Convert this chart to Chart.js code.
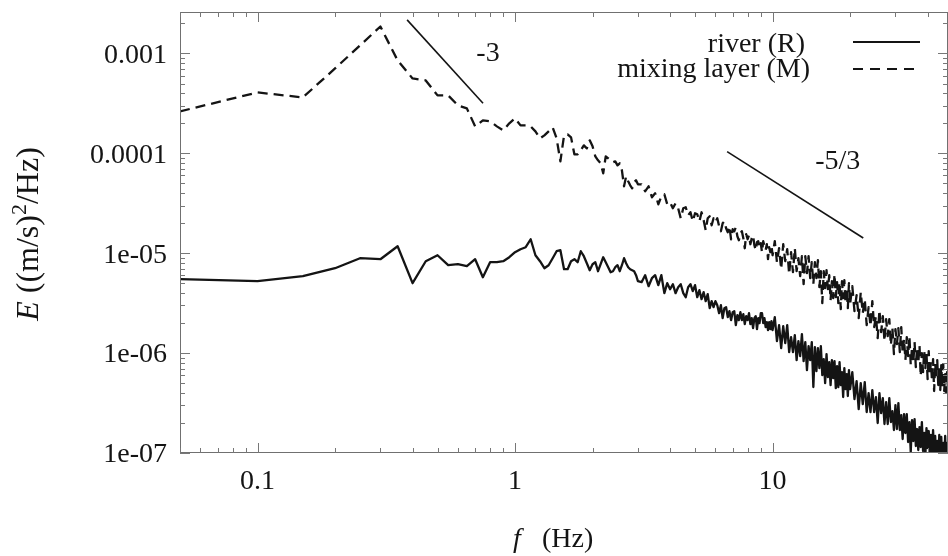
<!DOCTYPE html>
<html><head><meta charset="utf-8">
<script src="https://cdn.jsdelivr.net/npm/chart.js@4.4.1/dist/chart.umd.min.js"></script>
<style>html,body{margin:0;padding:0;background:#fff}canvas{display:block}</style>
</head><body>
<canvas id="c" width="948" height="556"></canvas>
<script>
// ---- frequencies (Hz) ----
const freqLow = [0.05,0.1,0.15,0.2,0.25,0.3,0.35,0.4,0.45,0.5,0.55,0.6,0.65,0.7,0.75,0.8,0.85,0.9,0.95,1,1.05,1.1,1.15,1.2,1.25,1.3,1.35,1.4,1.45,1.5,1.55,1.6,1.65,1.7,1.75,1.8,1.85,1.9,1.95,2,2.05,2.1,2.15,2.2,2.25,2.3,2.35,2.4,2.45,2.5,2.55,2.6,2.65,2.7,2.75,2.8,2.85,2.9,2.95,3];
const freqMid = [3.1,3.2,3.3,3.4,3.5,3.6,3.7,3.8,3.9,4,4.1,4.2,4.3,4.4,4.5,4.6,4.7,4.8,4.9,5,5.1,5.2,5.3,5.4,5.5,5.6,5.7,5.8,5.9,6,6.1,6.2,6.3,6.4,6.5,6.6,6.7,6.8,6.9,7,7.1,7.2,7.3,7.4,7.5,7.6,7.7,7.8,7.9,8,8.1,8.2,8.3,8.4,8.5,8.6,8.7,8.8,8.9,9,9.1,9.2,9.3,9.4,9.5,9.6,9.7,9.8,9.9,10];
const freqHigh1 = [10.2,10.4,10.6,10.8,11,11.2,11.4,11.6,11.8,12,12.2,12.4,12.6,12.8,13,13.2,13.4,13.6,13.8,14,14.2,14.4,14.6,14.8,15,15.2,15.4,15.6,15.8,16,16.2,16.4,16.6,16.8,17,17.2,17.4,17.6,17.8,18,18.2,18.4,18.6,18.8,19,19.2,19.4,19.6,19.8,20];
const freqHigh2 = [20.4,20.8,21.2,21.6,22,22.4,22.8,23.2,23.6,24,24.4,24.8,25.2,25.6,26,26.4,26.8,27.2,27.6,28,28.4,28.8,29.2,29.6,30,30.4,30.8,31.2,31.6,32,32.4,32.8,33.2,33.6,34,34.4,34.8,35.2,35.6,36,36.4,36.8,37.2,37.6,38,38.4,38.8,39.2,39.6,40,40.4,40.8,41.2,41.6,42,42.4,42.8,43.2,43.6,44,44.4,44.8,45.2,45.6,46,46.4,46.8,47.2,47.6,48];

// ---- river (R): log10 E ----
const riverLow = [-5.26,-5.28,-5.23,-5.15,-5.05,-5.06,-4.93,-5.30,-5.08,-5.02,
-5.12,-5.11,-5.13,-5.06,-5.24,-5.09,-5.09,-5.08,-5.04,-4.99,
-4.96,-4.94,-4.86,-5.02,-5.08,-5.15,-5.12,-5.05,-4.98,-4.97,
-5.16,-5.16,-5.08,-5.06,-5.09,-4.98,-5.03,-5.10,-5.17,-5.11,
-5.09,-5.18,-5.11,-5.04,-5.09,-5.14,-5.19,-5.18,-5.14,-5.12,
-5.18,-5.12,-5.05,-5.10,-5.14,-5.16,-5.17,-5.18,-5.22,-5.28];
const riverMid = [-5.29,-5.22,-5.33,-5.25,-5.22,-5.32,-5.22,-5.40,-5.30,-5.36,
-5.31,-5.40,-5.34,-5.31,-5.40,-5.44,-5.34,-5.31,-5.38,-5.32,
-5.44,-5.37,-5.46,-5.39,-5.48,-5.41,-5.55,-5.48,-5.54,-5.48,
-5.52,-5.60,-5.52,-5.65,-5.55,-5.54,-5.64,-5.58,-5.67,-5.59,
-5.58,-5.72,-5.62,-5.67,-5.59,-5.67,-5.61,-5.71,-5.63,-5.67,
-5.60,-5.71,-5.65,-5.75,-5.65,-5.63,-5.76,-5.65,-5.70,-5.60,
-5.60,-5.70,-5.65,-5.74,-5.69,-5.77,-5.69,-5.76,-5.68,-5.77];
const riverHigh1 = [-5.64,-5.88,-5.72,-5.95,-5.73,-5.90,-5.72,-5.99,-5.84,-5.99,
-5.82,-6.07,-5.88,-6.03,-5.81,-6.08,-5.89,-6.17,-5.93,-6.07,
-5.89,-6.34,-5.94,-6.18,-5.95,-6.15,-5.93,-6.22,-6.06,-6.30,
-6.01,-6.24,-6.09,-6.32,-6.07,-6.25,-6.08,-6.35,-6.13,-6.34,
-6.09,-6.32,-6.19,-6.44,-6.15,-6.36,-6.21,-6.43,-6.17,-6.36];
const riverHigh2 = [-6.19,-6.46,-6.28,-6.56,-6.30,-6.51,-6.29,-6.59,-6.40,-6.59,
-6.37,-6.59,-6.44,-6.70,-6.40,-6.60,-6.45,-6.71,-6.49,-6.71,
-6.45,-6.69,-6.58,-6.77,-6.52,-6.76,-6.50,-6.77,-6.62,-6.86,
-6.61,-6.80,-6.61,-6.89,-6.69,-6.99,-6.67,-6.88,-6.66,-6.93,
-6.76,-6.97,-6.74,-6.94,-6.69,-6.98,-6.80,-7.03,-6.75,-6.95,
-6.78,-7.01,-6.82,-7.08,-6.77,-7.00,-6.83,-7.08,-6.88,-7.07,
-6.82,-7.05,-6.84,-7.12,-6.90,-7.09,-6.83,-7.13,-6.90,-7.08];

// ---- mixing layer (M): log10 E ----
const mixingLow = [-3.58,-3.39,-3.44,-3.15,-2.92,-2.73,-3.07,-3.25,-3.27,-3.42,
-3.42,-3.52,-3.55,-3.73,-3.67,-3.68,-3.73,-3.77,-3.70,-3.65,
-3.72,-3.72,-3.73,-3.78,-3.85,-3.82,-3.78,-3.74,-3.85,-4.08,
-3.82,-3.81,-3.84,-4.01,-4.01,-3.97,-3.92,-3.95,-3.87,-3.93,
-4.03,-4.07,-4.10,-4.20,-4.03,-4.05,-4.07,-4.09,-4.08,-4.12,
-4.10,-4.17,-4.33,-4.23,-4.28,-4.32,-4.35,-4.29,-4.27,-4.31];
const mixingMid = [-4.31,-4.38,-4.33,-4.44,-4.40,-4.51,-4.43,-4.41,-4.51,-4.49,
-4.55,-4.50,-4.55,-4.65,-4.55,-4.54,-4.62,-4.59,-4.68,-4.60,
-4.61,-4.68,-4.59,-4.67,-4.77,-4.65,-4.63,-4.72,-4.65,-4.69,
-4.65,-4.73,-4.78,-4.70,-4.68,-4.75,-4.79,-4.73,-4.86,-4.76,
-4.78,-4.74,-4.83,-4.87,-4.80,-4.78,-4.85,-4.95,-4.81,-4.86,
-4.82,-4.91,-4.85,-4.82,-4.92,-4.97,-4.89,-4.88,-4.95,-4.90,
-4.99,-4.88,-4.93,-4.97,-4.91,-5.06,-4.94,-4.99,-4.92,-5.02];
const mixingHigh1 = [-4.88,-5.09,-4.95,-5.16,-4.91,-5.08,-4.96,-5.21,-4.99,-5.19,
-4.95,-5.18,-5.05,-5.23,-5.03,-5.31,-5.03,-5.20,-5.03,-5.25,
-5.09,-5.31,-5.09,-5.25,-5.07,-5.34,-5.18,-5.50,-5.18,-5.35,
-5.17,-5.36,-5.22,-5.47,-5.28,-5.45,-5.21,-5.44,-5.29,-5.50,
-5.29,-5.56,-5.28,-5.45,-5.27,-5.50,-5.35,-5.55,-5.30,-5.51];
const mixingHigh2 = [-5.33,-5.58,-5.42,-5.65,-5.39,-5.60,-5.46,-5.72,-5.54,-5.73,
-5.48,-5.74,-5.63,-5.85,-5.57,-5.79,-5.63,-5.88,-5.66,-5.83,
-5.66,-5.92,-5.75,-6.01,-5.76,-5.91,-5.75,-5.99,-5.74,-6.00,
-5.86,-6.07,-5.84,-6.03,-5.83,-6.12,-5.94,-6.09,-5.89,-6.14,
-5.94,-6.10,-5.92,-6.23,-6.00,-6.19,-5.97,-6.15,-6.00,-6.26,
-5.98,-6.22,-6.09,-6.28,-6.06,-6.38,-6.10,-6.25,-6.07,-6.32,
-6.15,-6.37,-6.12,-6.34,-6.11,-6.38,-6.21,-6.39,-6.19,-6.37];

// ---- reference slope lines ----
const slopeMinus3 = [{x:0.381, y:2.17e-3}, {x:0.751, y:3.17e-4}];
const slopeMinus53 = [{x:6.66, y:1.04e-4}, {x:22.5, y:1.42e-5}];

// ---- tick labels ----
const xTickValues = [0.1, 1, 10];
const xTickLabels = ['0.1', '1', '10'];
const yTickValues = [1e-7, 1e-6, 1e-5, 1e-4, 1e-3];
const yTickLabels = ['1e-07', '1e-06', '1e-05', '0.0001', '0.001'];

const seriesNames = ['river (R)', 'mixing layer (M)'];

// ---- build tables ----
const freqs = [...freqLow, ...freqMid, ...freqHigh1, ...freqHigh2];
const riverLog = [...riverLow, ...riverMid, ...riverHigh1, ...riverHigh2];
const mixingLog = [...mixingLow, ...mixingMid, ...mixingHigh1, ...mixingHigh2];
const toPoints = logs => freqs.map((f, i) => ({x: f, y: Math.pow(10, logs[i])}));

const FONT = '"Liberation Serif", "Times New Roman", serif';
const INK = '#141414';

const noPad = s => { s.paddingTop = 0; s.paddingBottom = 0; s.paddingLeft = 0; s.paddingRight = 0; };

const decor = {
  id: 'decor',
  afterDraw(chart) {
    const {ctx, chartArea: a, scales: {x, y}} = chart;
    ctx.save();
    // frame
    ctx.strokeStyle = '#707070';
    ctx.lineWidth = 1;
    ctx.strokeRect(a.left + 0.5, a.top + 0.5, a.right - a.left - 1, a.bottom - a.top - 1);
    // inward tick marks on all four sides
    ctx.strokeStyle = '#777';
    ctx.beginPath();
    for (let e = -2; e <= 1; e++) for (let m = 1; m <= 9; m++) {
      const v = m * Math.pow(10, e);
      if (v < x.min || v > x.max) continue;
      const px = Math.round(x.getPixelForValue(v)) + 0.5, len = m === 1 ? 10 : 5;
      ctx.moveTo(px, a.bottom); ctx.lineTo(px, a.bottom - len);
      ctx.moveTo(px, a.top); ctx.lineTo(px, a.top + len);
    }
    for (let e = -7; e <= -3; e++) for (let m = 1; m <= 9; m++) {
      const v = m * Math.pow(10, e);
      if (v < y.min || v > y.max) continue;
      const py = Math.round(y.getPixelForValue(v)) + 0.5, len = m === 1 ? 10 : 5;
      ctx.moveTo(a.left, py); ctx.lineTo(a.left + len, py);
      ctx.moveTo(a.right, py); ctx.lineTo(a.right - len, py);
    }
    ctx.stroke();

    ctx.fillStyle = INK;
    ctx.textBaseline = 'alphabetic';
    // legend
    ctx.font = '28px ' + FONT;
    ctx.textAlign = 'right';
    ctx.fillText(seriesNames[0], 805, 52);
    ctx.fillText(seriesNames[1], 810, 77);
    ctx.strokeStyle = INK;
    ctx.lineWidth = 1.8;
    ctx.beginPath(); ctx.moveTo(853, 42); ctx.lineTo(920, 42); ctx.stroke();
    ctx.setLineDash([10, 7]);
    ctx.beginPath(); ctx.moveTo(853, 69); ctx.lineTo(915, 69); ctx.stroke();
    ctx.setLineDash([]);

    // slope labels
    ctx.textAlign = 'center';
    ctx.textBaseline = 'middle';
    ctx.fillText('-3', x.getPixelForValue(0.785), y.getPixelForValue(1.0e-3));
    ctx.fillText('-5/3', x.getPixelForValue(17.9), y.getPixelForValue(8.3e-5));

    // x title: f (Hz)
    ctx.textAlign = 'left';
    ctx.textBaseline = 'alphabetic';
    ctx.font = 'italic 28px ' + FONT;
    ctx.fillText('f', 513, 547);
    ctx.font = '28px ' + FONT;
    ctx.fillText('(Hz)', 542, 547);

    // y title: E ((m/s)^2/Hz), rotated
    const parts = [
      {t: 'E', f: 'italic 32px ' + FONT, dy: 0},
      {t: ' ((m/s)', f: '32px ' + FONT, dy: 0},
      {t: '2', f: '22px ' + FONT, dy: -12},
      {t: '/Hz)', f: '32px ' + FONT, dy: 0}
    ];
    let total = 0;
    parts.forEach(p => { ctx.font = p.f; p.w = ctx.measureText(p.t).width; total += p.w; });
    ctx.translate(38, 234);
    ctx.rotate(-Math.PI / 2);
    let cx = -total / 2;
    parts.forEach(p => { ctx.font = p.f; ctx.fillText(p.t, cx, p.dy); cx += p.w; });
    ctx.restore();
  }
};

new Chart(document.getElementById('c'), {
  type: 'line',
  data: {
    datasets: [
      {label: seriesNames[0], data: toPoints(riverLog), borderColor: INK, borderWidth: 2.3,
       pointRadius: 0, tension: 0, borderJoinStyle: 'round'},
      {label: seriesNames[1], data: toPoints(mixingLog), borderColor: INK, borderWidth: 2.3,
       borderDash: [10, 6], pointRadius: 0, tension: 0, borderJoinStyle: 'round'},
      {label: 'slope -3', data: slopeMinus3, borderColor: INK, borderWidth: 1.6, pointRadius: 0},
      {label: 'slope -5/3', data: slopeMinus53, borderColor: INK, borderWidth: 1.6, pointRadius: 0}
    ]
  },
  options: {
    responsive: false,
    animation: false,
    devicePixelRatio: 1,
    layout: {padding: {top: 12, right: 0, left: 0, bottom: 0}},
    plugins: {legend: {display: false}, tooltip: {enabled: false}},
    scales: {
      x: {
        type: 'logarithmic', min: 0.05, max: 48,
        grid: {display: false, drawTicks: false}, border: {display: false},
        afterBuildTicks: s => { s.ticks = xTickValues.map(v => ({value: v})); },
        afterFit: s => { s.height = 103; noPad(s); },
        ticks: {callback: (v, i) => xTickLabels[i], font: {family: FONT, size: 28}, color: INK,
                padding: 12, maxRotation: 0, autoSkip: false}
      },
      y: {
        type: 'logarithmic', min: 1e-7, max: 2.6e-3,
        grid: {display: false, drawTicks: false}, border: {display: false},
        afterBuildTicks: s => { s.ticks = yTickValues.map(v => ({value: v})); },
        afterFit: s => { s.width = 180; noPad(s); },
        ticks: {callback: (v, i) => yTickLabels[i], font: {family: FONT, size: 28}, color: INK,
                padding: 13, labelOffset: 2, autoSkip: false}
      }
    }
  },
  plugins: [decor]
});
</script>
</body></html>
